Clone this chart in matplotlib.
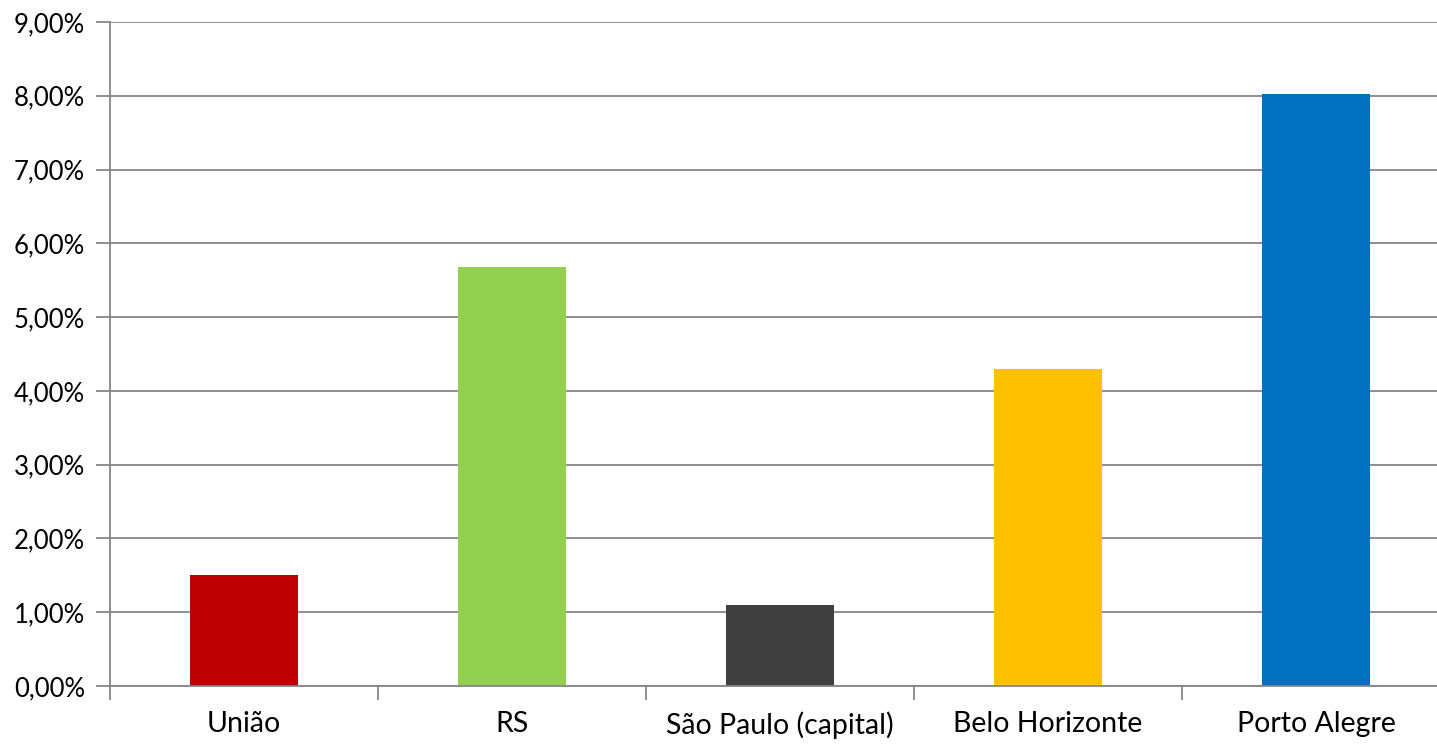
import matplotlib
matplotlib.use("Agg")
import matplotlib.pyplot as plt
import numpy as np
from matplotlib.ticker import FuncFormatter

categories = ["União", "RS", "São Paulo (capital)", "Belo Horizonte", "Porto Alegre"]
values = [1.50, 5.68, 1.10, 4.30, 8.02]
colors = ["#C00000", "#92D050", "#404040", "#FFC000", "#0070C0"]
yticks = [0, 1, 2, 3, 4, 5, 6, 7, 8, 9]

plt.rcParams['font.family'] = ['Lato', 'DejaVu Sans']

W, H = 1437, 745
fig = plt.figure(figsize=(W/100, H/100), dpi=100)
ax = fig.add_axes([110/W, (H-686)/H, (1450-110)/W, (686-22)/H])

x = np.arange(len(categories))
ax.bar(x, values, width=0.4, color=colors, zorder=3)

ax.set_xlim(-0.5, len(categories)-0.5)
ax.set_ylim(0, 9)
ax.set_yticks(yticks)
ax.yaxis.set_major_formatter(FuncFormatter(lambda v, p: f"{v:.2f}".replace(".", ",") + "%"))
ax.set_xticks(x)
ax.set_xticklabels(categories)
ax.set_xticks(np.arange(len(categories)+1) - 0.5, minor=True)
ax.tick_params(axis='x', which='major', length=0, pad=18, labelsize=20.5, colors="black")
ax.tick_params(axis='x', which='minor', length=10, width=1.3, color="#868686", direction='out')
ax.tick_params(axis='y', length=10, width=1.3, color="#868686", labelsize=18.5, pad=8)
ax.grid(axis='y', color="#868686", linewidth=1.3, zorder=0)
for s in ["top", "right"]:
    ax.spines[s].set_visible(False)
for s in ["left", "bottom"]:
    ax.spines[s].set_color("#868686")
    ax.spines[s].set_linewidth(1.3)
ax.spines["bottom"].set_zorder(4)

fig.savefig("out.png", dpi=100)
